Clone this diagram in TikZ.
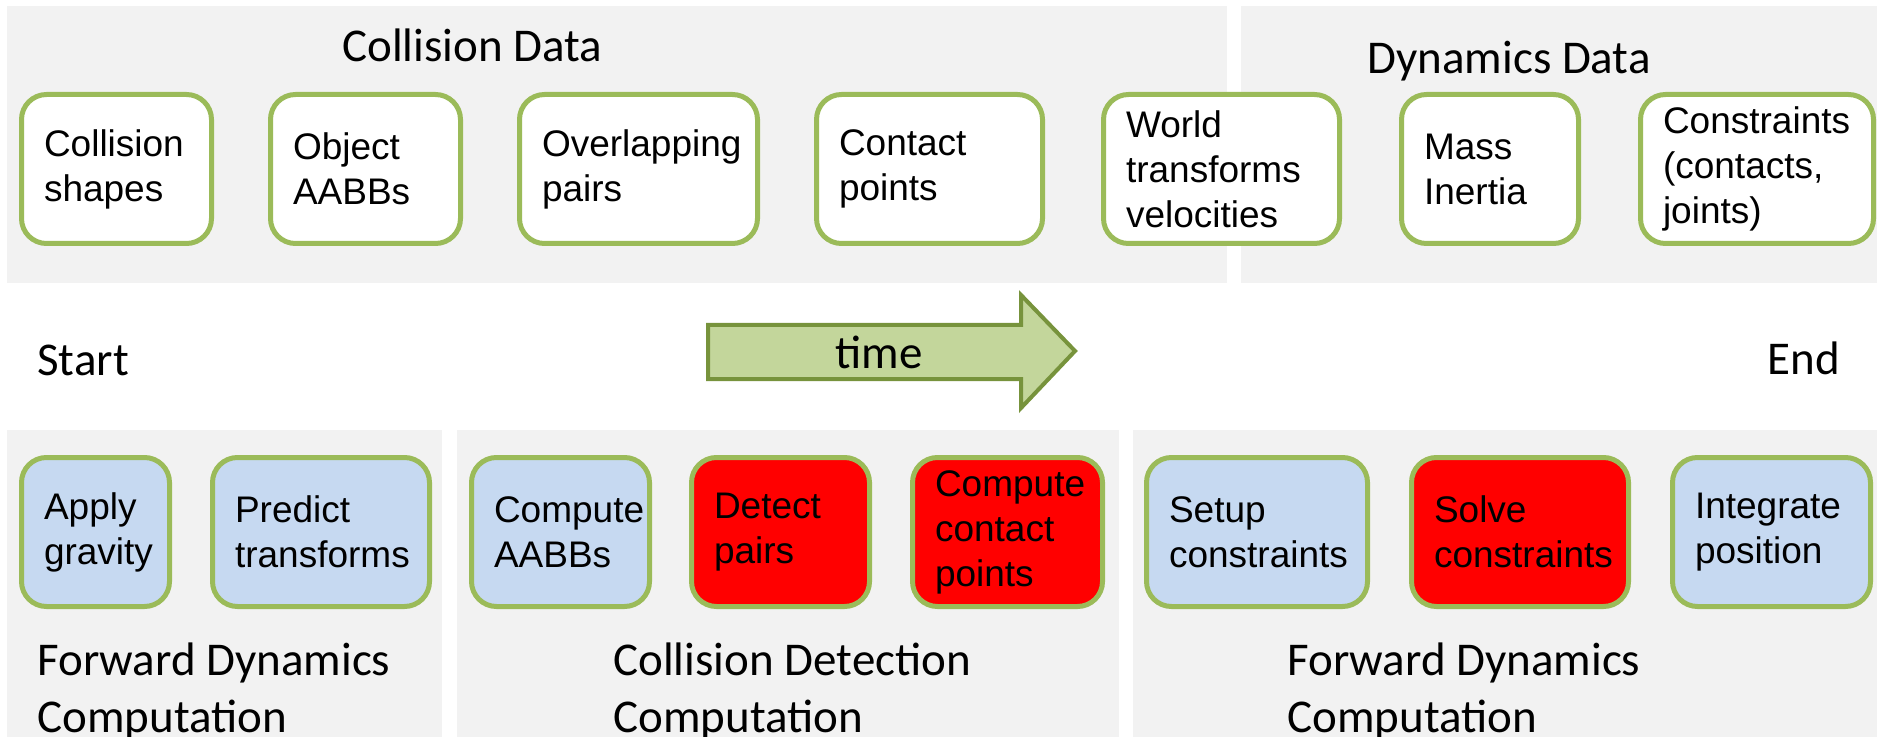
\documentclass[tikz,border=0pt]{standalone}
\usepackage{fontspec}
\setmainfont{Carlito}
\newfontfamily\arialfont{Liberation Sans}
\usepackage{tikz}
\usetikzlibrary{positioning}

\definecolor{panelgray}{HTML}{F2F2F2}
\definecolor{boxgreen}{HTML}{9BBB59}
\definecolor{stepblue}{HTML}{C6D9F1}
\definecolor{hotred}{HTML}{FF0000}
\definecolor{timefill}{HTML}{C3D69B}
\definecolor{timeedge}{HTML}{77933C}

\newcommand\boxfont{\arialfont\fontsize{18.5}{22.5}\selectfont}
\newcommand\titlefont{\fontsize{23.5}{28.5}\selectfont}

\tikzset{
  databox/.style={draw=boxgreen,line width=2.5pt,rounded corners=12.5pt,fill=white,
    minimum height=74.5pt,inner xsep=11.25pt,inner ysep=0pt,align=left,font=\boxfont},
  stepbox/.style={databox,fill=stepblue},
  hotbox/.style={databox,fill=hotred},
  title/.style={font=\titlefont,inner sep=0pt,anchor=base west,align=left}
}

\begin{document}
\begin{tikzpicture}[x=0.5pt,y=-0.5pt]
          \useasboundingbox (0,0) rectangle (1877,737);

          % Draw the panels
          \fill[panelgray] (7,6) rectangle (1227,283);
          \fill[panelgray] (1241,6) rectangle (1877,283);
          \fill[panelgray] (7,430) rectangle (442,737);
          \fill[panelgray] (457,430) rectangle (1119,737);
          \fill[panelgray] (1133,430) rectangle (1877,737);

          % Draw the titles (multi-line ones sit on their last line)
          \node[title] (coldata) at (342,62) {Collision Data};
          \node[title] (dyndata) at (1367,74) {Dynamics Data};
          \node[title] (start) at (37,375) {Start};
          \node[title] (end) at (1767,374) {End};
          \node[title] (fwd1) at (37,732) {Forward Dynamics\\Computation};
          \node[title] (coldet) at (613,732) {Collision Detection\\Computation};
          \node[title] (fwd2) at (1287,732) {Forward Dynamics\\Computation};

          % Draw the data boxes
          \node[databox,text width=72.5pt] (cshapes) at (116.5,169) {Collision\\shapes};
          \node[databox,text width=72.5pt] (aabbs) at (365.5,169) {Object\\AABBs};
          \node[databox,text width=96.5pt] (pairs) at (638.5,169) {Overlapping\\pairs};
          \node[databox,text width=90.5pt] (cpoints) at (929.5,169) {Contact\\points};
          \node[databox,text width=95.5pt] (xforms) at (1221.5,169) {World\\transforms\\velocities};
          \node[databox,text width=66pt] (mass) at (1490,169) {Mass\\Inertia};
          \node[databox,text width=94pt] (cons) at (1757,169) {Constraints\\(contacts,\\joints)};

          % Draw the time arrow
          \filldraw[fill=timefill,draw=timeedge,line width=2pt]
            (708,325) -- (1021,325) -- (1021,295) -- (1075,351)
            -- (1021,408) -- (1021,379) -- (708,379) -- cycle;
          \node[title] (time) at (835,368) {time};

          % Draw the computation steps
          \node[stepbox,text width=51.5pt] (gravity) at (95.5,532) {Apply\\gravity};
          \node[stepbox,text width=86pt] (predict) at (321,532) {Predict\\transforms};
          \node[stepbox,text width=66.5pt] (caabb) at (560.5,532) {Compute\\AABBs};
          \node[hotbox,text width=66.5pt] (detect) at (780.5,532) {Detect\\pairs};
          \node[hotbox,text width=72.5pt] (ccontact) at (1007.5,532) {Compute\\contact\\points};
          \node[stepbox,text width=88pt] (setup) at (1257,532) {Setup\\constraints};
          \node[hotbox,text width=86pt] (solve) at (1520,532) {Solve\\constraints};
          \node[stepbox,text width=76.5pt] (integrate) at (1771.5,532) {Integrate\\position};

\end{tikzpicture}
\end{document}
